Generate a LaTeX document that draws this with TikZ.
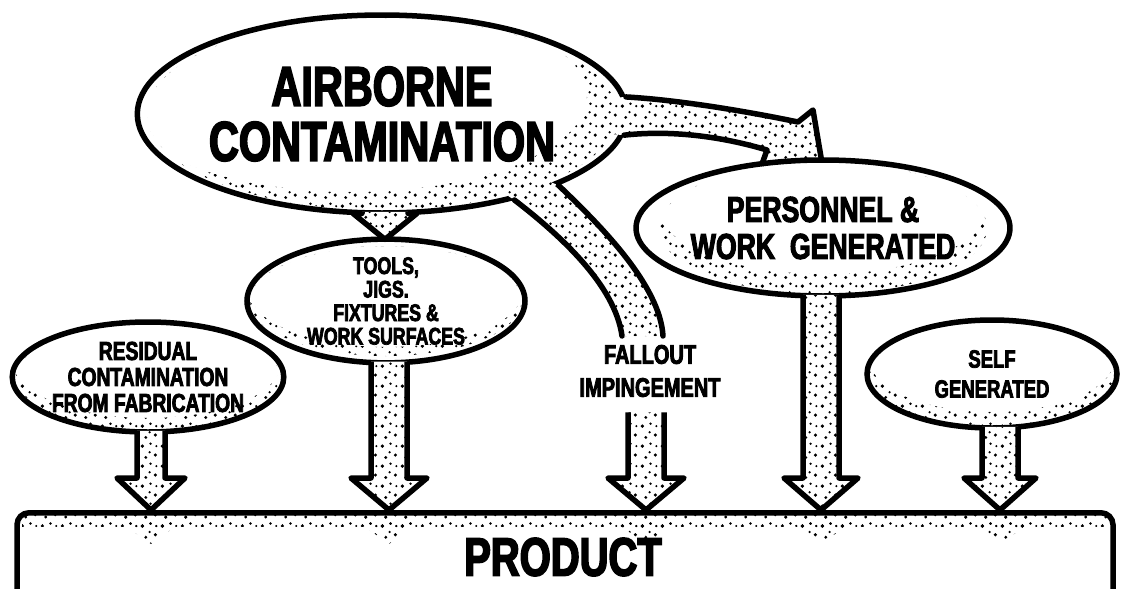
\documentclass[tikz,border=0pt]{standalone}
\usepackage{fontspec}
\newfontfamily\diafont[FakeStretch=0.74,FakeBold=3]{Liberation Sans Bold}
\usetikzlibrary{shapes.geometric,calc,patterns.meta}

\tikzdeclarepattern{
  name=stipple,
  bottom left={(0pt,0pt)},
  top right={(20pt,20pt)},
  tile size={(20pt,20pt)},
  code={
    \fill (2.5pt,3pt) circle (1.9pt);
    \fill (11pt,5.5pt) circle (1.4pt);
    \fill (6pt,12pt) circle (1.6pt);
    \fill (16pt,14.5pt) circle (1.8pt);
    \fill (17pt,3pt) circle (1.2pt);
    \fill (10pt,17.5pt) circle (1.3pt);
  }
}

\tikzset{
  blob/.style={ellipse,draw,line width=5.5pt,fill=white,align=center,inner sep=0pt},
  lbl/.style={align=center,inner sep=0pt},
  txt/.style 2 args={font=\diafont\fontsize{#1}{#2}\selectfont},
  prodbox/.style={rectangle,draw,line width=5.5pt,rounded corners=12pt},
  bandfill/.style={fill=white,postaction={pattern=stipple}},
  bandedge/.style={line width=5.5pt,line join=round,line cap=round},
  blockarrow/.style={draw,line width=5.5pt,line join=round,preaction={fill=white},pattern=stipple},
}

% fat arrow: from, to, half shaft, half head, head length
\newcommand{\fatarrow}[5]{%
  \draw[blockarrow] let \p1=(#1), \p2=(#2) in
    (\x1-#3,\y1+4pt) -- (\x1-#3,\y2+#5) -- (\x1-#4,\y2+#5) -- (\x1,\y2)
    -- (\x1+#4,\y2+#5) -- (\x1+#3,\y2+#5) -- (\x1+#3,\y1+4pt);}

% stipple along the lower rim of an ellipse
\newcommand{\stipplerim}[4]{%
  \begin{scope}
    \clip (#1.center) ellipse ({#2} and {#3});
    \path[pattern=stipple,even odd rule] (#1.center) ellipse ({#2} and {#3})
      ([shift={#4}]#1.center) ellipse ({#2} and {#3});
  \end{scope}}

\begin{document}
\begin{tikzpicture}[x=1pt,y=-1pt]
  \useasboundingbox (0,0) rectangle (1125,589);
  \clip (0,0) rectangle (1125,589);

  % product
  \node[prodbox,anchor=north,minimum width=1096pt,minimum height=140pt] (product) at (565,510) {};
  \path[pattern=stipple] (22,514) rectangle (1108,526);
  \foreach \tx in {151,389,646,821,1000}
    \path[pattern=stipple] (\tx-42,514) -- (\tx,544) -- (\tx+42,514) -- cycle;

  % airborne source
  \node[blob,txt={56}{55},minimum width=476pt,minimum height=198pt] (airborne) at (382,114) {AIRBORNE\\CONTAMINATION};
  \stipplerim{airborne}{235}{96}{(-30pt,18pt)}

  % curved flows
  \coordinate (headR) at (822,163);
  \coordinate (headL) at (762,164);
  \coordinate (fallend) at (642,336);
  \path[bandfill] ($(airborne.center)!0.95!(airborne.4)$) -- (airborne.4)
    .. controls (680,100) and (750,112) .. (798,122) -- (813,110) -- (824,174) -- (760,174)
    -- (767,150) .. controls (720,136) and (670,130) .. (airborne.-5)
    -- ($(airborne.center)!0.95!(airborne.-5)$) -- cycle;
  \draw[bandedge] (airborne.4) .. controls (680,100) and (750,112) .. (798,122) -- (813,110) -- (headR);
  \draw[bandedge] (headL) -- (767,150) .. controls (720,136) and (670,130) .. (airborne.-5);
  \path[bandfill] ($(airborne.center)!0.95!(airborne.-33)$) -- (airborne.-33)
    .. controls (560,235) and (615,285) .. ([xshift=-20pt]fallend) -- ([xshift=21pt]fallend)
    .. controls (660,285) and (600,225) .. (airborne.-22)
    -- ($(airborne.center)!0.95!(airborne.-22)$) -- cycle;
  \draw[bandedge] (airborne.-33) .. controls (560,235) and (615,285) .. ([xshift=-20pt]fallend);
  \draw[bandedge] (airborne.-22) .. controls (600,225) and (660,285) .. ([xshift=21pt]fallend);

  % other sources
  \node[blob,txt={36}{37},minimum width=334pt,minimum height=136pt] (personnel) at (823,228) {PERSONNEL \&\\WORK\ \ GENERATED};
  \stipplerim{personnel}{164}{66}{(0pt,20pt)}
  \node[blob,txt={24}{23.5},minimum width=278pt,minimum height=114pt] (tools) at (386,301) {TOOLS,\\JIGS.\\FIXTURES \&\\WORK SURFACES};
  \stipplerim{tools}{136}{55}{(0pt,9pt)}
  \node[blob,txt={26}{26},minimum width=270pt,minimum height=110pt] (residual) at (148,377) {RESIDUAL\\CONTAMINATION\\FROM FABRICATION};
  \stipplerim{residual}{132}{53}{(0pt,12pt)}
  \node[blob,txt={25}{30},minimum width=250pt,minimum height=108pt] (self) at (992,374) {SELF\\GENERATED};
  \stipplerim{self}{122}{52}{(0pt,14pt)}
  \node[lbl,txt={27}{33}] (fallout) at (650,371) {FALLOUT\\IMPINGEMENT};

  % block arrows
  \fatarrow{[xshift=3pt]airborne.south}{[yshift=-3pt]tools.north}{23pt}{32pt}{26pt}
  \fatarrow{[xshift=3pt]residual.south}{product.north}{14pt}{34pt}{32pt}
  \fatarrow{[xshift=3pt]tools.south}{product.north}{18pt}{38pt}{32pt}
  \fatarrow{[xshift=-4pt,yshift=-19pt]fallout.south}{product.north}{18pt}{38pt}{32pt}
  \fatarrow{[xshift=-2pt]personnel.south}{product.north}{18pt}{37pt}{32pt}
  \fatarrow{[xshift=8pt]self.south}{product.north}{18pt}{36pt}{32pt}

  \node[lbl,txt={54}{54}] (prodlabel) at (563,557) {PRODUCT};
\end{tikzpicture}
\end{document}
